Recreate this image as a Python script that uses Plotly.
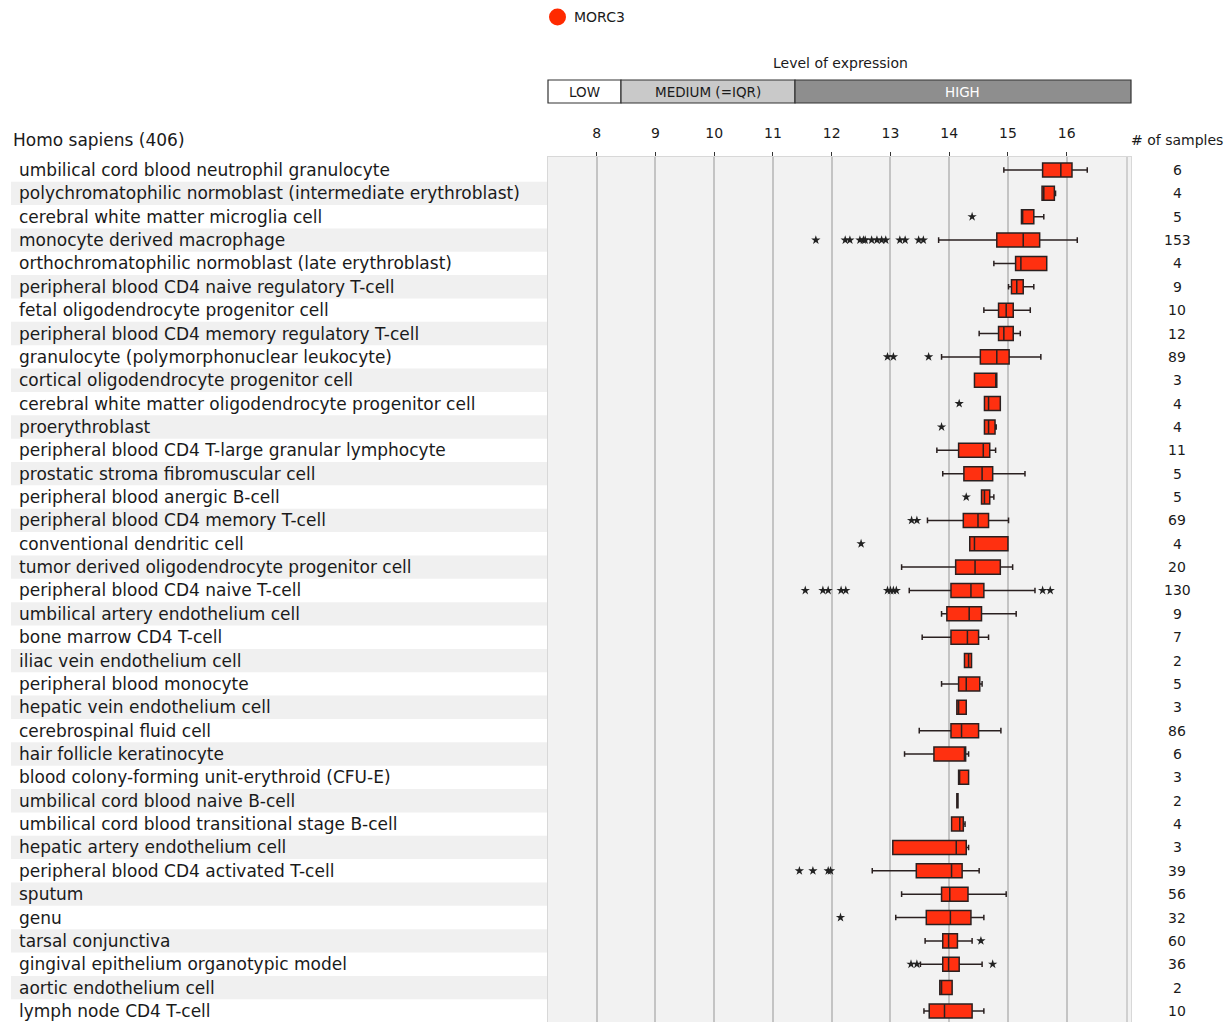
import plotly.graph_objects as go

W, H = 1231, 1022

cell_types = [
    "umbilical cord blood neutrophil granulocyte",
    "polychromatophilic normoblast (intermediate erythroblast)",
    "cerebral white matter microglia cell",
    "monocyte derived macrophage",
    "orthochromatophilic normoblast (late erythroblast)",
    "peripheral blood CD4 naive regulatory T-cell",
    "fetal oligodendrocyte progenitor cell",
    "peripheral blood CD4 memory regulatory T-cell",
    "granulocyte (polymorphonuclear leukocyte)",
    "cortical oligodendrocyte progenitor cell",
    "cerebral white matter oligodendrocyte progenitor cell",
    "proerythroblast",
    "peripheral blood CD4 T-large granular lymphocyte",
    "prostatic stroma fibromuscular cell",
    "peripheral blood anergic B-cell",
    "peripheral blood CD4 memory T-cell",
    "conventional dendritic cell",
    "tumor derived oligodendrocyte progenitor cell",
    "peripheral blood CD4 naive T-cell",
    "umbilical artery endothelium cell",
    "bone marrow CD4 T-cell",
    "iliac vein endothelium cell",
    "peripheral blood monocyte",
    "hepatic vein endothelium cell",
    "cerebrospinal fluid cell",
    "hair follicle keratinocyte",
    "blood colony-forming unit-erythroid (CFU-E)",
    "umbilical cord blood naive B-cell",
    "umbilical cord blood transitional stage B-cell",
    "hepatic artery endothelium cell",
    "peripheral blood CD4 activated T-cell",
    "sputum",
    "genu",
    "tarsal conjunctiva",
    "gingival epithelium organotypic model",
    "aortic endothelium cell",
    "lymph node CD4 T-cell",
]

n_samples = [6, 4, 5, 153, 4, 9, 10, 12, 89, 3, 4, 4, 11, 5, 5, 69, 4, 20, 130, 9,
             7, 2, 5, 3, 86, 6, 3, 2, 4, 3, 39, 56, 32, 60, 36, 2, 10]

lower_whisker = [14.93, 15.58, 15.23, 13.82, 14.76, 15.01, 14.59, 14.51, 13.87, 14.43,
                 14.60, 14.60, 13.79, 13.89, 14.55, 13.63, 14.35, 13.19, 13.32, 13.87,
                 13.54, 14.26, 13.87, 14.13, 13.49, 13.24, 14.16, 14.13, 14.04, 13.04,
                 12.69, 13.19, 13.09, 13.59, 13.51, 13.84, 13.57]
q1 = [15.59, 15.58, 15.23, 14.81, 15.13, 15.06, 14.84, 14.84, 14.53, 14.43,
      14.60, 14.60, 14.16, 14.25, 14.55, 14.24, 14.35, 14.11, 14.03, 13.96,
      14.03, 14.26, 14.16, 14.13, 14.03, 13.74, 14.16, 14.13, 14.04, 13.04,
      13.44, 13.87, 13.61, 13.89, 13.89, 13.84, 13.66]
median = [15.90, 15.61, 15.25, 15.26, 15.22, 15.15, 14.97, 14.93, 14.81, 14.81,
          14.67, 14.67, 14.58, 14.56, 14.60, 14.49, 14.43, 14.44, 14.37, 14.34,
          14.31, 14.33, 14.29, 14.16, 14.21, 14.26, 14.17, 14.14, 14.18, 14.12,
          14.04, 14.01, 14.02, 13.99, 13.99, 13.87, 13.92]
q3 = [16.09, 15.79, 15.44, 15.54, 15.66, 15.26, 15.09, 15.09, 15.02, 14.81,
      14.87, 14.78, 14.69, 14.74, 14.69, 14.67, 15.00, 14.87, 14.59, 14.55,
      14.50, 14.38, 14.52, 14.29, 14.50, 14.28, 14.33, 14.15, 14.24, 14.29,
      14.22, 14.32, 14.37, 14.14, 14.17, 14.05, 14.39]
upper_whisker = [16.35, 15.81, 15.61, 16.18, 15.66, 15.44, 15.38, 15.21, 15.56, 14.81,
                 14.87, 14.80, 14.79, 15.29, 14.76, 15.01, 15.00, 15.08, 15.46, 15.14,
                 14.67, 14.38, 14.56, 14.29, 14.88, 14.33, 14.33, 14.15, 14.27, 14.33,
                 14.51, 14.97, 14.59, 14.39, 14.56, 14.05, 14.59]

outliers = [
    [], [], [14.39],
    [11.73, 12.23, 12.31, 12.48, 12.54, 12.57, 12.68, 12.77, 12.85, 12.92, 13.16, 13.25, 13.48, 13.56],
    [], [], [], [],
    [12.95, 13.05, 13.65],
    [], [14.17], [13.87], [], [], [14.29],
    [13.36, 13.45],
    [12.50], [],
    [11.55, 11.85, 11.94, 12.16, 12.24, 12.95, 13.0, 13.05, 13.10, 15.59, 15.72],
    [], [], [], [], [], [], [], [], [], [], [],
    [11.45, 11.68, 11.94, 11.98],
    [], [12.15], [14.54], [13.35, 13.45, 14.74], [], [],
]

x_ticks = [8, 9, 10, 11, 12, 13, 14, 15, 16]

# ---------- layout geometry ----------
PX_LEFT, PX_RIGHT = 548, 1131
PX_TOP = 157
ROW0, ROWSTEP = 170, 23.36
X_AT_12, PX_PER_UNIT = 831.7, 58.75


def px2v(px):
    return 12 + (px - X_AT_12) / PX_PER_UNIT


def fx(px):
    return px / W


def fy(py):
    return 1 - py / H


y_top = (PX_TOP - ROW0) / ROWSTEP
y_bot = (H - ROW0) / ROWSTEP

FONT = "DejaVu Sans, Verdana, sans-serif"
RED = "#ff3010"
TXT = "#1a1a1a"

fig = go.Figure()

fig.add_trace(go.Box(
    y=cell_types,
    q1=q1, median=median, q3=q3,
    lowerfence=lower_whisker, upperfence=upper_whisker,
    orientation="h",
    fillcolor=RED,
    line=dict(color="#2a2020", width=1.5),
    width=0.6,
    whiskerwidth=0.4,
    boxpoints=False,
    showlegend=False,
    hoverinfo="skip",
))

ox, oy = [], []
for name, vals in zip(cell_types, outliers):
    for v in vals:
        ox.append(v)
        oy.append(name)
fig.add_trace(go.Scatter(
    x=ox, y=oy, mode="markers",
    marker=dict(symbol="star", size=7, color="#222222", line=dict(width=0)),
    showlegend=False, hoverinfo="skip",
))

shapes = []
annotations = []

# stripes behind label rows
for i, name in enumerate(cell_types):
    if i % 2 == 1:
        shapes.append(dict(type="rect", xref="paper", yref="y",
                           x0=fx(11), x1=fx(PX_LEFT), y0=i - 0.5, y1=i + 0.5,
                           fillcolor="#f0f0f0", line=dict(width=0), layer="below"))
    annotations.append(dict(xref="paper", yref="y", x=fx(17), y=i, text=name,
                            xanchor="left", yanchor="middle", showarrow=False,
                            font=dict(family=FONT, size=17, color=TXT)))
    annotations.append(dict(xref="paper", yref="y", x=fx(1177), y=i, text=str(n_samples[i]),
                            xanchor="center", yanchor="middle", showarrow=False,
                            font=dict(family=FONT, size=14, color=TXT)))

# extra right-hand line in plot area
shapes.append(dict(type="line", xref="x", yref="paper", x0=px2v(1127), x1=px2v(1127),
                   y0=0, y1=fy(PX_TOP), line=dict(color="#c4c4c4", width=1.5), layer="below"))

# level of expression bar
bar_y0, bar_y1 = fy(103), fy(80)
for x0, x1, col, txt, tcol in [
    (PX_LEFT, 621, "#ffffff", "LOW", TXT),
    (621, 795, "#c9c9c9", "MEDIUM (=IQR)", TXT),
    (795, PX_RIGHT, "#8e8e8e", "HIGH", "#ffffff"),
]:
    shapes.append(dict(type="rect", xref="paper", yref="paper",
                       x0=fx(x0), x1=fx(x1), y0=bar_y0, y1=bar_y1,
                       fillcolor=col, line=dict(color="#333333", width=1.2)))
    annotations.append(dict(xref="paper", yref="paper", x=fx((x0 + x1) / 2), y=(bar_y0 + bar_y1) / 2,
                            text=txt, showarrow=False, xanchor="center", yanchor="middle",
                            font=dict(family=FONT, size=13.5, color=tcol)))

annotations.append(dict(xref="paper", yref="paper", x=fx(840), y=fy(63), text="Level of expression",
                        showarrow=False, xanchor="center", yanchor="middle",
                        font=dict(family=FONT, size=14, color=TXT)))

# legend
shapes.append(dict(type="circle", xref="paper", yref="paper",
                   x0=fx(549), x1=fx(566), y0=fy(25.5), y1=fy(8.5),
                   fillcolor="#ff2a00", line=dict(width=0)))
annotations.append(dict(xref="paper", yref="paper", x=fx(572), y=fy(17), text="MORC3",
                        showarrow=False, xanchor="left", yanchor="middle",
                        font=dict(family=FONT, size=14, color=TXT)))

annotations.append(dict(xref="paper", yref="paper", x=fx(11), y=fy(140), text="Homo sapiens (406)",
                        showarrow=False, xanchor="left", yanchor="middle",
                        font=dict(family=FONT, size=17, color=TXT)))
annotations.append(dict(xref="paper", yref="paper", x=fx(1177), y=fy(140), text="# of samples",
                        showarrow=False, xanchor="center", yanchor="middle",
                        font=dict(family=FONT, size=14, color=TXT)))

fig.update_layout(
    width=W, height=H,
    margin=dict(l=0, r=0, t=0, b=0),
    paper_bgcolor="#ffffff",
    plot_bgcolor="#f2f2f2",
    shapes=shapes,
    annotations=annotations,
    xaxis=dict(
        domain=[fx(PX_LEFT), fx(PX_RIGHT)],
        range=[px2v(PX_LEFT), px2v(PX_RIGHT)],
        side="top",
        tickvals=x_ticks,
        ticktext=[str(t) for t in x_ticks],
        ticks="outside", ticklen=4, tickwidth=1, tickcolor="#333333",
        ticklabelstandoff=8,
        tickfont=dict(family=FONT, size=14, color=TXT),
        showgrid=True, gridcolor="#c4c4c4", gridwidth=1.5,
        zeroline=False,
        showline=True, linecolor="#d8d8d8", linewidth=1, mirror=True,
        fixedrange=True,
    ),
    yaxis=dict(
        domain=[0, fy(PX_TOP)],
        type="category",
        categoryorder="array", categoryarray=cell_types,
        range=[y_bot, y_top],
        showticklabels=False, ticks="",
        showgrid=False, zeroline=False,
        showline=True, linecolor="#d8d8d8", linewidth=1, mirror=True,
        fixedrange=True,
    ),
)

fig.write_html(
    "out.html",
    config={"displayModeBar": False},
    post_script="document.body.style.margin='0';document.body.style.overflow='hidden';",
)
